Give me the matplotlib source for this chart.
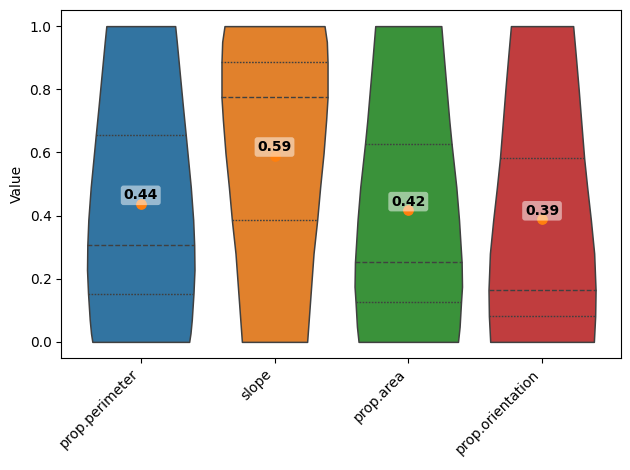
import numpy as np
import matplotlib
matplotlib.use('Agg')
import matplotlib.pyplot as plt

# Variables shown on the x axis
features = ['prop.perimeter', 'slope', 'prop.area', 'prop.orientation']
colors = ['#3274a1', '#e1812c', '#3a923a', '#c03d3e']

# Density profiles (relative half-widths)
grid_perimeter = [0.0, 0.027, 0.07, 0.154, 0.228, 0.306, 0.386, 0.49, 0.654, 0.75, 0.85, 0.95, 1.0]
dens_perimeter = [48.4, 49.7, 51.0, 52.7, 53.7, 53.4, 52.4, 50.0, 45.0, 42.0, 39.0, 36.0, 34.4]

grid_slope = [0.0, 0.175, 0.28, 0.385, 0.49, 0.597, 0.703, 0.774, 0.885, 0.95, 1.0]
dens_slope = [32.6, 36.6, 39.0, 42.6, 45.6, 49.0, 51.6, 53.0, 53.0, 52.3, 50.0]

grid_area = [0.0, 0.048, 0.126, 0.175, 0.252, 0.386, 0.49, 0.626, 0.7, 0.8, 0.9, 1.0]
dens_area = [49.7, 51.3, 52.7, 53.7, 53.3, 50.7, 48.0, 43.3, 41.0, 38.3, 35.6, 33.0]

grid_orientation = [0.0, 0.081, 0.164, 0.28, 0.386, 0.49, 0.581, 0.7, 0.8, 0.9, 1.0]
dens_orientation = [51.8, 53.1, 53.5, 52.1, 48.8, 45.1, 42.1, 39.1, 36.6, 33.9, 31.1]

# Quartiles (q1, median, q3) and means
quartiles = [
    [0.151, 0.306, 0.654],
    [0.385, 0.774, 0.885],
    [0.126, 0.252, 0.626],
    [0.081, 0.164, 0.581],
]
means = [0.437, 0.59, 0.417, 0.388]

grids = [grid_perimeter, grid_slope, grid_area, grid_orientation]
densities = [dens_perimeter, dens_slope, dens_area, dens_orientation]

fig = plt.figure(figsize=(6.3, 4.7), dpi=100)
ax = fig.add_axes([0.0973, 0.239, 0.8892, 0.739])

px_per_unit = 133.7
positions = np.arange(len(features))
vpstats = []
widths = []
for g, d, q, m in zip(grids, densities, quartiles, means):
    vpstats.append({'coords': np.array(g), 'vals': np.array(d, dtype=float),
                    'mean': m, 'median': q[1], 'min': 0.0, 'max': 1.0})
    widths.append(2 * max(d) / px_per_unit)

parts = ax.violin(vpstats, positions=positions, widths=widths,
                  showmeans=False, showextrema=False, showmedians=False)
for body, c in zip(parts['bodies'], colors):
    body.set_facecolor(c)
    body.set_edgecolor('0.25')
    body.set_linewidth(1.1)
    body.set_alpha(1)

# Quartile lines inside the violins
for i, (g, d, q) in enumerate(zip(grids, densities, quartiles)):
    for j, val in enumerate(q):
        hw = np.interp(val, g, d) / px_per_unit
        dashes = (3.5, 1.5) if j == 1 else (1.2, 1.0)
        ax.plot([i - hw, i + hw], [val, val], color='0.25', lw=1.0,
                dashes=dashes, zorder=2)

# Mean markers with labels
ax.scatter(positions, means, color='#ff7f0e', s=45, zorder=3)
for i, m in enumerate(means):
    ax.text(i, m + 0.005, f'{m:.2f}', ha='center', va='bottom',
            fontweight='bold', fontsize=10, zorder=4,
            bbox=dict(facecolor='white', alpha=0.5, edgecolor='none',
                      boxstyle='round,pad=0.2'))

ax.set_xticks(positions)
ax.set_xticklabels(features, rotation=45, ha='right')
ax.set_xlim(-0.594, 3.594)
ax.set_ylim(-0.05, 1.05)
ax.set_ylabel('Value')

plt.savefig('out.png')
